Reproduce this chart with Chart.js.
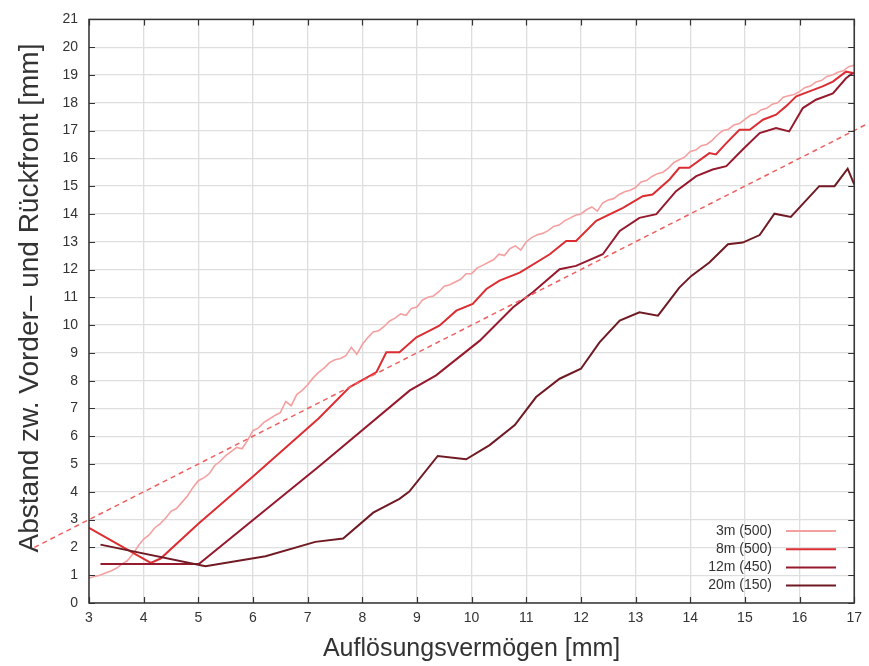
<!DOCTYPE html>
<html><head><meta charset="utf-8">
<script src="https://cdn.jsdelivr.net/npm/chart.js@4"></script>
<style>html,body{margin:0;padding:0;background:#fff}canvas{display:block}</style>
</head><body>
<canvas id="c" width="869" height="666"></canvas>
<script>
const seriesLabels = ['3m (500)', '8m (500)', '12m (450)', '20m (150)'];
const xTitle = 'Auflösungsvermögen [mm]';
const yTitle = 'Abstand zw. Vorder– und Rückfront [mm]';
const xRange = [3, 17];
const yRange = [0, 21];

const s3m = [[3.0,0.90],[3.1,0.95],[3.2,1.00],[3.3,1.08],[3.4,1.15],[3.5,1.25],[3.6,1.40],[3.7,1.52],[3.8,1.75],[3.9,2.05],
[4.0,2.30],[4.1,2.45],[4.2,2.70],[4.3,2.85],[4.4,3.05],[4.5,3.30],[4.6,3.40],[4.7,3.62],[4.8,3.85],[4.9,4.15],
[5.0,4.40],[5.1,4.50],[5.2,4.65],[5.3,4.95],[5.4,5.10],[5.5,5.30],[5.6,5.45],[5.7,5.60],[5.8,5.55],[5.9,5.85],
[6.0,6.20],[6.1,6.30],[6.2,6.50],[6.3,6.62],[6.4,6.75],[6.5,6.85],[6.6,7.25],[6.7,7.10],[6.8,7.50],[6.9,7.65],
[7.0,7.85],[7.1,8.10],[7.2,8.30],[7.3,8.45],[7.4,8.65],[7.5,8.75],[7.6,8.80],[7.7,8.90],[7.8,9.20],[7.9,8.95],
[8.0,9.30],[8.1,9.55],[8.2,9.75],[8.3,9.80],[8.4,9.95],[8.5,10.15],[8.6,10.25],[8.7,10.40],[8.8,10.35],[8.9,10.60],
[9.0,10.65],[9.1,10.90],[9.2,11.00],[9.3,11.05],[9.4,11.20],[9.5,11.40],[9.6,11.45],[9.7,11.55],[9.8,11.65],[9.9,11.85],
[10.0,11.85],[10.1,12.05],[10.2,12.15],[10.3,12.25],[10.4,12.35],[10.5,12.55],[10.6,12.50],[10.7,12.75],[10.8,12.85],[10.9,12.70],
[11.0,13.00],[11.1,13.15],[11.2,13.25],[11.3,13.30],[11.4,13.40],[11.5,13.55],[11.6,13.60],[11.7,13.75],[11.8,13.85],[11.9,13.95],
[12.0,14.00],[12.1,14.15],[12.2,14.25],[12.3,14.10],[12.4,14.40],[12.5,14.50],[12.6,14.55],[12.7,14.70],[12.8,14.80],[12.9,14.85],
[13.0,14.95],[13.1,15.15],[13.2,15.20],[13.3,15.35],[13.4,15.45],[13.5,15.50],[13.6,15.65],[13.7,15.85],[13.8,15.95],[13.9,16.05],
[14.0,16.25],[14.1,16.30],[14.2,16.45],[14.3,16.50],[14.4,16.65],[14.5,16.85],[14.6,17.00],[14.7,17.05],[14.8,17.20],[14.9,17.25],
[15.0,17.40],[15.1,17.55],[15.2,17.60],[15.3,17.75],[15.4,17.80],[15.5,17.95],[15.6,18.00],[15.7,18.20],[15.8,18.25],[15.9,18.30],
[16.0,18.40],[16.1,18.55],[16.2,18.60],[16.3,18.75],[16.4,18.80],[16.5,18.95],[16.6,19.00],[16.7,19.10],[16.8,19.15],[16.9,19.30],[17.0,19.35]];

const s8m = [[3.0,2.70],[4.13,1.44],[4.31,1.60],[5.0,2.85],[6.0,4.55],[7.2,6.64],[7.77,7.77],[8.26,8.31],[8.44,9.02],[8.68,9.02],
[8.99,9.56],[9.17,9.74],[9.41,9.98],[9.72,10.52],[10.02,10.76],[10.27,11.30],[10.51,11.60],[10.88,11.89],[11.43,12.55],[11.73,13.03],
[11.91,13.03],[12.28,13.75],[12.77,14.22],[13.13,14.64],[13.31,14.70],[13.62,15.24],[13.80,15.66],[13.98,15.66],[14.35,16.19],[14.47,16.14],
[14.66,16.55],[14.90,17.03],[15.09,17.03],[15.33,17.39],[15.57,17.57],[15.75,17.87],[15.94,18.23],[16.18,18.41],[16.42,18.59],[16.61,18.76],
[16.85,19.12],[17.0,19.06]];

const s12m = [[3.21,1.40],[5.01,1.40],[7.20,4.90],[8.87,7.65],[9.35,8.19],[10.15,9.44],[10.76,10.64],[11.12,11.18],[11.61,12.01],[11.91,12.13],
[12.40,12.55],[12.71,13.39],[13.07,13.86],[13.38,13.99],[13.74,14.82],[14.11,15.36],[14.41,15.60],[14.66,15.72],[14.96,16.32],[15.27,16.91],
[15.57,17.09],[15.81,16.97],[16.06,17.81],[16.30,18.11],[16.61,18.34],[16.85,18.88],[16.97,19.06]];

const s20m = [[3.21,2.10],[5.13,1.32],[6.23,1.68],[7.14,2.20],[7.65,2.32],[8.20,3.25],[8.68,3.75],[8.86,4.01],[9.38,5.29],[9.90,5.17],
[10.33,5.68],[10.79,6.40],[11.18,7.41],[11.61,8.07],[12.00,8.43],[12.34,9.38],[12.71,10.16],[13.07,10.46],[13.41,10.34],[13.80,11.35],
[14.02,11.77],[14.35,12.25],[14.69,12.91],[14.96,12.97],[15.27,13.24],[15.54,14.01],[15.84,13.89],[16.36,15.00],[16.64,15.00],[16.88,15.63],[17.0,15.06]];

const refLine = [[2.0,2.0],[17.25,17.25]];

const colors = ['rgb(244,160,160)', 'rgb(220,45,50)', 'rgb(150,25,45)', 'rgb(112,26,36)'];
const refColor = 'rgb(240,95,95)';
const FONT = '"Liberation Sans", Arial, sans-serif';

const toXY = arr => arr.map(p => ({x: p[0], y: p[1]}));
const seriesData = [s3m, s8m, s12m, s20m];

const datasets = seriesData.map((d, i) => ({
  label: seriesLabels[i],
  data: toXY(d),
  borderColor: colors[i],
  borderWidth: i === 0 ? 1.6 : 2,
  pointRadius: 0,
  tension: 0,
  order: 4 - i,
  fill: false
}));
datasets.push({
  label: 'ref',
  data: toXY(refLine),
  borderColor: refColor,
  borderWidth: 1.5,
  borderDash: [5, 4],
  pointRadius: 0,
  clip: false,
  order: 0,
  fill: false
});

const framePlugin = {
  id: 'frame',
  afterDatasetsDraw(chart) {
    const {ctx, chartArea: a, scales: {x, y}} = chart;
    ctx.save();
    ctx.strokeStyle = '#333';
    ctx.lineWidth = 1.5;
    ctx.strokeRect(a.left, a.top, a.right - a.left, a.bottom - a.top);
    ctx.lineWidth = 1.2;
    ctx.beginPath();
    x.ticks.forEach(t => {
      const px = Math.round(x.getPixelForValue(t.value)) + 0.5;
      ctx.moveTo(px, a.bottom); ctx.lineTo(px, a.bottom - 6);
      ctx.moveTo(px, a.top); ctx.lineTo(px, a.top + 6);
    });
    y.ticks.forEach(t => {
      const py = Math.round(y.getPixelForValue(t.value)) + 0.5;
      ctx.moveTo(a.left, py); ctx.lineTo(a.left + 6, py);
      ctx.moveTo(a.right, py); ctx.lineTo(a.right - 6, py);
    });
    ctx.stroke();
    // legend
    ctx.font = '14px ' + FONT;
    ctx.fillStyle = '#333';
    ctx.textAlign = 'right';
    ctx.textBaseline = 'middle';
    const rowY0 = 531, rowH = 18.2, textRight = 772, l0 = 786, l1 = 836;
    seriesLabels.forEach((lab, i) => {
      const yy = rowY0 + i * rowH;
      ctx.fillText(lab, textRight, yy);
      ctx.beginPath();
      ctx.strokeStyle = colors[i];
      ctx.lineWidth = 2;
      ctx.moveTo(l0, yy); ctx.lineTo(l1, yy);
      ctx.stroke();
    });
    // y axis title
    ctx.save();
    ctx.translate(30, 298);
    ctx.rotate(-Math.PI / 2);
    ctx.font = '28px ' + FONT;
    ctx.textAlign = 'center';
    ctx.textBaseline = 'middle';
    ctx.fillStyle = '#333';
    ctx.fillText(yTitle, 0, 0);
    ctx.restore();
    ctx.restore();
  }
};

new Chart(document.getElementById('c'), {
  type: 'line',
  data: {datasets},
  options: {
    responsive: false,
    animation: false,
    devicePixelRatio: 1,
    layout: {padding: {left: 0, top: 16, right: 13, bottom: 0}},
    plugins: {legend: {display: false}, tooltip: {enabled: false}},
    scales: {
      x: {
        type: 'linear', min: xRange[0], max: xRange[1],
        afterFit(s) { s.height = 63; },
        ticks: {stepSize: 1, color: '#333', padding: 7, font: {size: 14, family: FONT}},
        grid: {color: '#dedede', lineWidth: 1.3, drawTicks: false},
        border: {display: false},
        title: {display: true, text: xTitle, color: '#333', font: {size: 25, family: FONT}, padding: {top: 0, bottom: 2}}
      },
      y: {
        type: 'linear', min: yRange[0], max: yRange[1],
        afterFit(s) { s.width = 89; },
        ticks: {stepSize: 1, color: '#333', padding: 11, font: {size: 14, family: FONT}},
        grid: {color: '#dedede', lineWidth: 1.3, drawTicks: false},
        border: {display: false}
      }
    }
  },
  plugins: [framePlugin]
});
</script>
</body></html>
